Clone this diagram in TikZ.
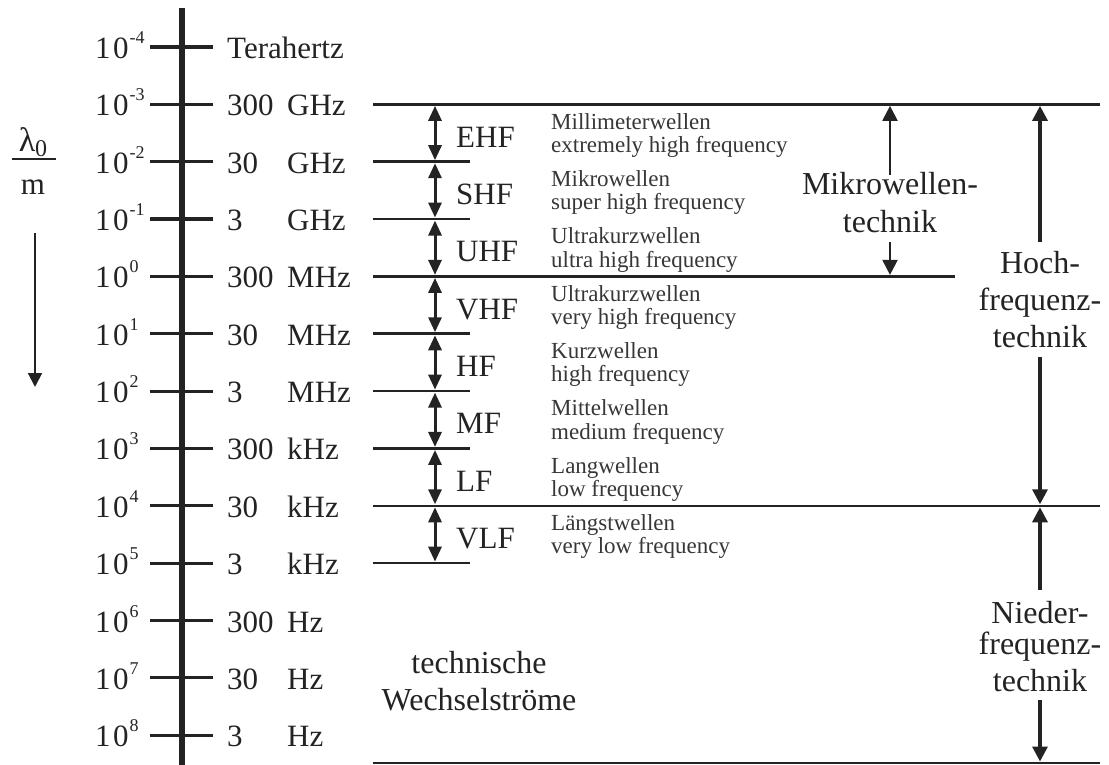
\documentclass[tikz,border=0pt]{standalone}
\usepackage{fontspec}
\setmainfont{Liberation Serif}
\usetikzlibrary{arrows.meta}
\definecolor{ink}{RGB}{35,35,35}
\definecolor{inklight}{RGB}{55,55,55}
\begin{document}
\begin{tikzpicture}[x=1pt,y=-1pt,
  big/.style={font=\fontsize{31}{31}\selectfont, inner sep=0pt, text=ink},
  lab/.style={font=\fontsize{32}{32}\selectfont, inner sep=0pt, text=ink, text height=22pt, text depth=0pt},
  small/.style={font=\fontsize{23}{23}\selectfont, inner sep=0pt, text=inklight},
  axisline/.style={line width=5.5pt, draw=ink},
  tickline/.style={line width=3.2pt, draw=ink},
  hline/.style={line width=2.6pt, draw=ink},
  dbl/.style={line width=3pt, draw=ink, {Triangle[length=15pt,width=13pt]}-{Triangle[length=15pt,width=13pt]}},
  marr/.style={line width=2.2pt, draw=ink, -{Triangle[length=15pt,width=15pt]}},
  harr/.style={line width=3.2pt, draw=ink, -{Triangle[length=15pt,width=15pt]}},
  larr/.style={line width=2pt, draw=ink, -{Triangle[length=14pt,width=14pt]}},
]
\useasboundingbox (0,0) rectangle (1109,765);

% wavelength axis
\coordinate (axtop) at (182,8);
\coordinate (axbot) at (182,765);
\foreach \i/\e in {0/-4,1/-3,2/-2,3/-1,4/0,5/1,6/2,7/3,8/4,9/5,10/6,11/7,12/8}{
  \pgfmathsetmacro\yy{47+57.35*\i}
  \coordinate (tl\i) at (150,\yy);
  \coordinate (tr\i) at (213,\yy);
  \draw[tickline] (tl\i) -- (tr\i);
  \node[big, anchor=base west] (p\i) at (95,\yy+11.5) {1\kern2.5pt0\kern1pt\raisebox{15pt}{\fontsize{18}{18}\selectfont\e}};
}
\draw[axisline] (axtop) -- (axbot);

% frequency labels
\node[big, anchor=base west] (n0) at (227,58.5) {Terahertz};
\foreach \i/\n/\u in {1/300/GHz,2/30/GHz,3/3/GHz,4/300/MHz,5/30/MHz,6/3/MHz,7/300/kHz,8/30/kHz,9/3/kHz,10/300/Hz,11/30/Hz,12/3/Hz}{
  \pgfmathsetmacro\yy{47+57.35*\i+11.5}
  \node[big, anchor=base west] (n\i) at (227,\yy) {\n};
  \node[big, anchor=base west] (u\i) at (287,\yy) {\u};
}

% horizontal band lines
\foreach \i/\r in {1/1100,2/470,3/470,4/955,5/470,6/470,7/470,8/1100,9/470}{
  \pgfmathsetmacro\yy{47+57.35*\i}
  \coordinate (L\i) at (373,\yy);
  \coordinate (R\i) at (\r,\yy);
  \draw[hline] (L\i) -- (R\i);
}
\coordinate (Lb) at (373,763);
\coordinate (Rb) at (1100,763);
\draw[hline] (Lb) -- (Rb);

% bands
\foreach \t/\name/\a/\b in {
  1/EHF/Millimeterwellen/extremely high frequency,
  2/SHF/Mikrowellen/super high frequency,
  3/UHF/Ultrakurzwellen/ultra high frequency,
  4/VHF/Ultrakurzwellen/very high frequency,
  5/HF/Kurzwellen/high frequency,
  6/MF/Mittelwellen/medium frequency,
  7/LF/Langwellen/low frequency,
  8/VLF/Längstwellen/very low frequency}{
  \pgfmathsetmacro\ya{47+57.35*\t}
  \pgfmathsetmacro\yb{47+57.35*(\t+1)}
  \pgfmathsetmacro\ym{(\ya+\yb)/2}
  \coordinate (da\t) at (435,\ya);
  \coordinate (db\t) at (435,\yb);
  \draw[dbl] ([yshift=-1.5pt]da\t) -- ([yshift=1.5pt]db\t);
  \node[big, anchor=base west] (bn\t) at (456,\ym+14) {\name};
  \node[small, anchor=base west] (bd\t) at (551,\ym-4) {\a};
  \node[small, anchor=base west] (be\t) at (551,\ym+19.5) {\b};
}

% Mikrowellentechnik
\node[lab, anchor=base] (mw1) at (890,195) {Mikrowellen-};
\node[lab, anchor=base] (mw2) at (890,233) {technik};
\draw[marr] ([yshift=-2pt]mw1.north) -- ([yshift=-1.5pt]mw1.north |- L1);
\draw[marr] ([yshift=-9pt]mw2.south) -- ([yshift=1.5pt]mw2.south |- L4);

% Hochfrequenztechnik
\node[lab, anchor=base] (hf1) at (1040,273) {Hoch-};
\node[lab, anchor=base] (hf2) at (1040,310) {frequenz-};
\node[lab, anchor=base] (hf3) at (1040,347) {technik};
\draw[harr] ([yshift=9pt]hf1.north) -- ([yshift=-1.5pt]hf1.north |- L1);
\draw[harr] ([yshift=-10pt]hf3.south) -- ([yshift=1.5pt]hf3.south |- L8);

% Niederfrequenztechnik
\node[lab, anchor=base] (nf1) at (1040,623) {Nieder-};
\node[lab, anchor=base] (nf2) at (1040,654) {frequenz-};
\node[lab, anchor=base] (nf3) at (1040,691) {technik};
\draw[harr] ([yshift=11pt]nf1.north) -- ([yshift=-1.5pt]nf1.north |- L8);
\draw[harr] ([yshift=-9pt]nf3.south) -- ([yshift=1.5pt]nf3.south |- Lb);

% technische Wechselstroeme
\node[lab, anchor=base] (tw1) at (479,673) {technische};
\node[lab, anchor=base] (tw2) at (479,710) {Wechselströme};

% lambda / m
\node[big, anchor=base] (lam) at (33,152) {\fontsize{34}{34}\selectfont λ\raisebox{-5pt}{\fontsize{24}{24}\selectfont 0}};
\coordinate (fa) at (12,159);
\coordinate (fb) at (56,159);
\draw[line width=1.8pt, draw=ink] (fa) -- (fb);
\node[big, anchor=base] (mm) at (33,195) {m};
\coordinate (la) at (35,233);
\coordinate (lb) at (35,387);
\draw[larr] (la) -- (lb);
\end{tikzpicture}
\end{document}
